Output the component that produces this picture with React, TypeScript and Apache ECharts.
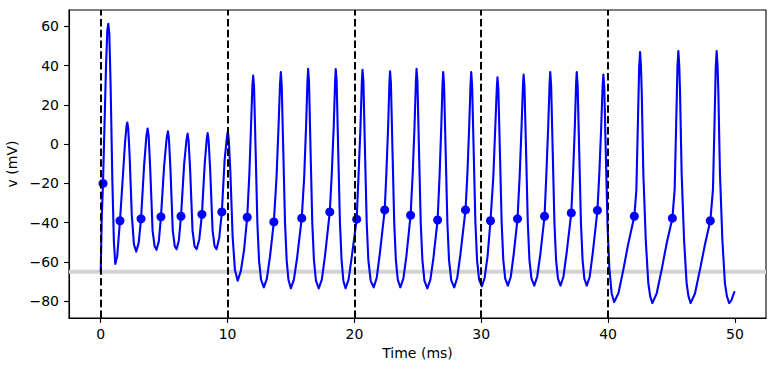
import React, { useEffect, useRef } from "react";
import * as echarts from "echarts";

// Membrane potential trace (time in ms, voltage in mV)
const traceT: number[] = [
  0, 0.08, 0.18, 0.3, 0.42, 0.52, 0.6, 0.68, 0.78, 0.92, 1.04, 1.15, 1.3, 1.52, 1.72, 1.92, 2.04, 2.1, 2.17, 2.28,
  2.45, 2.62, 2.8, 3.0, 3.18, 3.42, 3.6, 3.7, 3.78, 3.9, 4.09, 4.25, 4.4, 4.58, 4.75, 5.0, 5.2, 5.3, 5.38, 5.5,
  5.68, 5.84, 5.98, 6.16, 6.33, 6.58, 6.76, 6.85, 6.93, 7.05, 7.24, 7.4, 7.56, 7.77, 7.98, 8.2, 8.35, 8.43, 8.51, 8.63,
  8.82, 8.98, 9.13, 9.35, 9.55, 9.77, 9.94, 10.02, 10.1, 10.22, 10.4, 10.58, 10.8, 11.05, 11.3, 11.55,
  11.72, 11.85, 11.96, 12.02, 12.09, 12.22, 12.35, 12.48, 12.64, 12.86, 13.1, 13.35, 13.65,
  13.86, 14.02, 14.14, 14.2, 14.27, 14.4, 14.53, 14.66, 14.8, 14.99, 15.23, 15.48, 15.85,
  16.04, 16.19, 16.3, 16.35, 16.42, 16.55, 16.68, 16.81, 16.97, 17.19, 17.43, 17.68, 18.06,
  18.21, 18.37, 18.48, 18.53, 18.6, 18.73, 18.86, 18.99, 19.13, 19.3, 19.54, 19.8, 20.18,
  20.32, 20.48, 20.59, 20.64, 20.71, 20.84, 20.97, 21.1, 21.28, 21.52, 21.76, 22.0, 22.39,
  22.52, 22.66, 22.76, 22.81, 22.88, 23.01, 23.14, 23.27, 23.42, 23.62, 23.86, 24.1, 24.43,
  24.59, 24.74, 24.85, 24.9, 24.97, 25.1, 25.23, 25.36, 25.52, 25.75, 25.99, 26.23, 26.56,
  26.71, 26.85, 26.95, 27.0, 27.07, 27.2, 27.33, 27.46, 27.64, 27.87, 28.11, 28.36, 28.76,
  28.91, 29.05, 29.16, 29.21, 29.28, 29.41, 29.54, 29.67, 29.83, 30.05, 30.27, 30.5, 30.73,
  30.95, 31.11, 31.23, 31.28, 31.35, 31.48, 31.61, 31.74, 31.89, 32.1, 32.33, 32.56, 32.86,
  33.03, 33.18, 33.29, 33.34, 33.41, 33.54, 33.67, 33.8, 33.96, 34.18, 34.41, 34.66, 34.99,
  35.13, 35.28, 35.39, 35.44, 35.51, 35.64, 35.77, 35.9, 36.05, 36.25, 36.48, 36.74, 37.1,
  37.24, 37.38, 37.48, 37.53, 37.6, 37.73, 37.86, 37.99, 38.13, 38.32, 38.55, 38.8, 39.16,
  39.31, 39.46, 39.57, 39.63, 39.7, 39.83, 39.96, 40.1, 40.28, 40.48,
  40.82, 41.2, 41.6, 42.07, 42.23, 42.35, 42.45, 42.52, 42.59, 42.65, 42.78, 42.97, 43.17, 43.32, 43.49,
  43.83, 44.22, 44.62, 45.07, 45.25, 45.37, 45.47, 45.54, 45.61, 45.67, 45.8, 45.99, 46.19, 46.34, 46.51,
  46.85, 47.24, 47.64, 48.06, 48.27, 48.39, 48.49, 48.56, 48.63, 48.69, 48.82, 49.01, 49.21, 49.37, 49.55,
  49.72, 49.95,
];
const traceV: number[] = [
  -65, -38, -20, 10, 40, 58, 61.3, 56, 30, -19, -50, -61, -57, -39, -19, 1, 9.5, 11, 8, -6,
  -36, -51, -54.7, -50, -38, -11, 4, 8, 4, -12, -44, -52, -53.8, -49.5, -37, -11, 3, 6.6, 2.5, -13,
  -44, -52, -53.5, -49, -36.7, -10, 2, 5.4, 1.5, -13, -44, -52, -53.5, -48.5, -35.7, -10, 2, 5.7, 1.5, -13,
  -44, -52, -53.5, -47.5, -34.5, -8, 3, 6.6, 2, -14, -47, -64, -69.5, -64.5, -54, -37.2,
  -15, 9, 30, 34.9, 29, -5, -40, -59, -69, -72.9, -68.5, -57, -39.6,
  -17, 9, 31, 36.7, 30, -5, -40, -59, -69, -73.4, -69, -58, -37.7,
  -17, 9, 32, 38.4, 32, -5, -40, -59, -69.5, -73.4, -69, -57, -34.5,
  -16, 9, 32, 38.2, 32, -5, -40, -59, -69.5, -73.4, -69, -57, -38.2,
  -17, 9, 32, 37.9, 32, -5, -40, -59, -69.5, -72.9, -68, -56, -33.5,
  -15, 9, 31, 37.1, 31, -5, -40, -59, -69, -72.9, -68.5, -57, -36.2,
  -16, 9, 32, 38.4, 32, -5, -40, -59, -69.5, -73.4, -69, -58, -38.6,
  -17, 9, 31, 36.7, 30, -5, -40, -59, -69.5, -72.9, -68, -56, -33.5,
  -15, 9, 31, 36.7, 30, -5, -40, -59, -69, -72.4, -68, -57, -39,
  -17, 9, 29, 34, 28, -6, -40, -59, -68.5, -72, -67.5, -56, -38,
  -16, 9, 30, 35.4, 29, -5, -40, -59, -68.5, -72, -67.5, -56, -36.7,
  -16, 9, 31, 36.7, 30, -5, -40, -59, -68.5, -72, -67.5, -55, -35,
  -15, 9, 31, 36.7, 30, -5, -40, -59, -68.5, -72, -67.5, -55, -33.7,
  -15, 9, 30, 35.5, 29, -7, -42, -63, -76, -80.4,
  -75.8, -64, -50.4, -36.7, -23.4, 10.5, 39.2, 46.9, 40, 27.4, -15, -48.7, -70.7, -77.5, -80.9,
  -76, -64, -50.5, -37.7, -23, 10.5, 39.5, 47.4, 40, 27.4, -15, -48.7, -70.7, -77.5, -80.9,
  -76, -64, -51, -39, -23, 10.5, 39.5, 47.4, 40, 27.4, -15, -48.7, -70.7, -77.5, -80.9,
  -79.5, -75.3,
];

// Marked points (dots)
const dotT: number[] = [
  0.18, 1.52, 3.18, 4.75, 6.33, 7.98, 9.55, 11.55, 13.65, 15.85, 18.06, 20.18,
  22.39, 24.43, 26.56, 28.76, 30.73, 32.86, 34.99, 37.1, 39.16, 42.07, 45.07, 48.06,
];
const dotV: number[] = [
  -20, -39, -38, -37, -36.7, -35.7, -34.5, -37.2, -39.6, -37.7, -34.5, -38.2,
  -33.5, -36.2, -38.6, -33.5, -39, -38, -36.7, -35, -33.7, -36.7, -37.7, -39,
];

const stimTimes: number[] = [0, 10, 20, 30, 40];
const restV = -65;
const xMin = -2.5;
const xMax = 52.45;
const yMin = -88.5;
const yMax = 68.3;
const xTicks: number[] = [0, 10, 20, 30, 40, 50];
const yTicks: number[] = [-80, -60, -40, -20, 0, 20, 40, 60];

const FONT = "DejaVu Sans";
const fmt = (v: number | string) => {
  const n = Number(v);
  return n < 0 ? "\u2212" + Math.abs(n) : String(n);
};

export default function App() {
  const ref = useRef<HTMLDivElement>(null);
  useEffect(() => {
    if (!ref.current) return;
    const chart = echarts.init(ref.current, undefined, { renderer: "svg" });
    const trace = traceT.map((t, i) => [t, traceV[i]]);
    const dots = dotT.map((t, i) => [t, dotV[i]]);
    chart.setOption({
      animation: false,
      backgroundColor: "#fff",
      grid: {
        left: 69,
        top: 10,
        width: 697,
        height: 308,
        containLabel: false,
        outerBoundsMode: "none",
        show: true,
        borderColor: "#000",
        borderWidth: 1.1,
        backgroundColor: "transparent",
      },
      xAxis: {
        type: "value",
        min: xMin,
        max: xMax,
        splitLine: { show: false },
        axisLine: { show: true, onZero: false, lineStyle: { color: "#000", width: 1.1 } },
        axisTick: { show: true, length: 5, customValues: xTicks, lineStyle: { color: "#000", width: 1.1 } },
        axisLabel: {
          customValues: xTicks,
          formatter: fmt,
          fontFamily: FONT,
          fontSize: 14,
          color: "#000",
          margin: 9,
        },
        name: "Time (ms)",
        nameLocation: "middle",
        nameGap: 28,
        nameTextStyle: { fontFamily: FONT, fontSize: 14, color: "#000" },
      },
      yAxis: {
        type: "value",
        min: yMin,
        max: yMax,
        splitLine: { show: false },
        axisLine: { show: true, onZero: false, lineStyle: { color: "#000", width: 1.1 } },
        axisTick: { show: true, length: 5, customValues: yTicks, lineStyle: { color: "#000", width: 1.1 } },
        axisLabel: {
          customValues: yTicks,
          formatter: fmt,
          fontFamily: FONT,
          fontSize: 14,
          color: "#000",
          margin: 10,
        },
        name: "v (mV)",
        nameLocation: "middle",
        nameGap: 42,
        nameTextStyle: { fontFamily: FONT, fontSize: 14, color: "#000" },
      },
      series: [
        {
          type: "line",
          data: [[xMin, restV], [xMax, restV]],
          silent: true,
          showSymbol: false,
          z: 1,
          lineStyle: { color: "#d3d3d3", width: 4 },
        },
        {
          type: "line",
          data: trace,
          showSymbol: false,
          smooth: false,
          z: 3,
          lineStyle: { color: "#0000ff", width: 2.1, join: "round", cap: "round" },
          itemStyle: { color: "#0000ff" },
        },
        {
          type: "scatter",
          data: dots,
          symbol: "circle",
          symbolSize: 9,
          z: 4,
          itemStyle: { color: "#0000ff", opacity: 1 },
        },
        {
          type: "line",
          data: [],
          silent: true,
          z: 5,
          markLine: {
            silent: true,
            z: 5,
            symbol: "none",
            label: { show: false },
            lineStyle: { color: "#000", width: 2, type: [7.5, 3.3] },
            data: stimTimes.map((t) => ({ xAxis: t })),
          },
        },
      ],
    });
    return () => chart.dispose();
  }, []);
  return (
    <div
      ref={ref}
      style={{ position: "fixed", left: 0, top: 0, width: 776, height: 371, background: "#fff" }}
    />
  );
}
